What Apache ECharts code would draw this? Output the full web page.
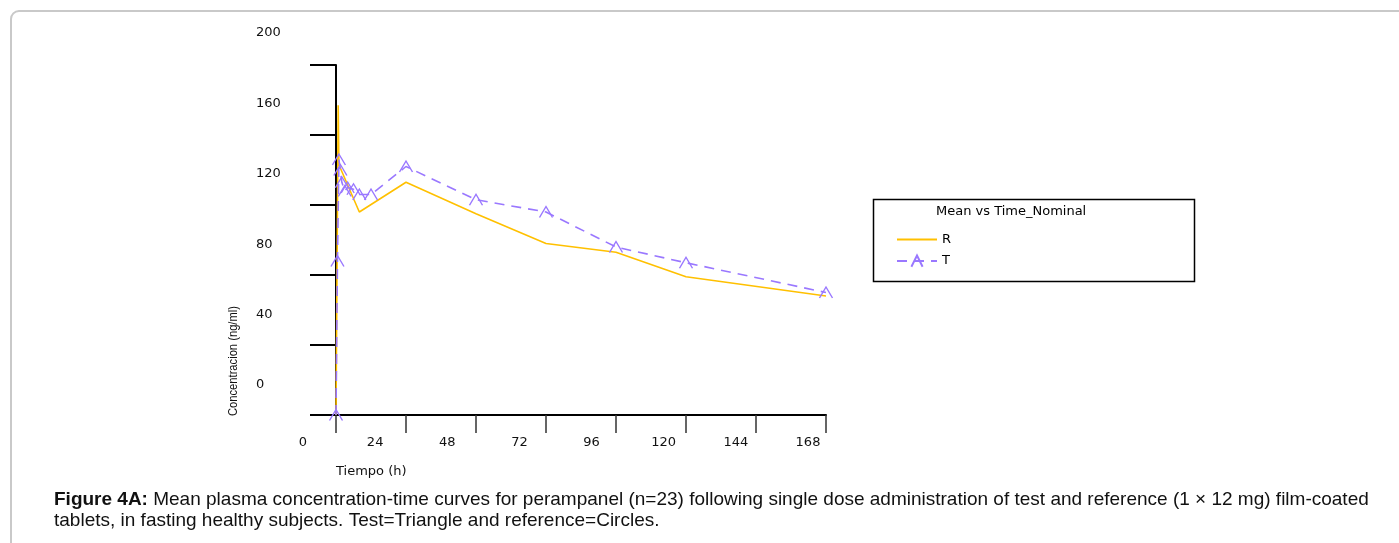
<!DOCTYPE html>
<html>
<head>
<meta charset="utf-8">
<script src="https://cdn.jsdelivr.net/npm/echarts@6/dist/echarts.min.js"></script>
<style>
  html, body { margin: 0; padding: 0; background: #fff; }
  #chart { width: 1399px; height: 543px; }
</style>
</head>
<body>
<div id="chart"></div>
<script>
// tiempo (h) y concentracion (ng/ml)
const timeR = [0, 0.75, 1, 8, 24, 48, 72, 96, 120, 168];
const concR = [0, 177, 143, 116, 133, 115, 98, 93, 79, 68];

const timeT = [0, 0.5, 1, 1.5, 2, 3, 4, 6, 8, 12, 24, 48, 72, 96, 120, 168];
const concT = [0, 88, 146, 140, 133, 128, 130, 129, 126, 126, 142, 123, 116, 96, 87, 70];

const xTicks = [0, 24, 48, 72, 96, 120, 144, 168];
const yTicks = [0, 40, 80, 120, 160, 200];

const caption1 = 'Mean plasma concentration-time curves for perampanel (n=23) following single dose administration of test and reference (1 × 12 mg) film-coated';
const caption2 = 'tablets, in fasting healthy subjects. Test=Triangle and reference=Circles.';

const orange = '#ffc000';
const purple = '#9a78ff';
const tickFont = { fontFamily: 'DejaVu Sans', fontSize: 13, color: '#111' };

const chart = echarts.init(document.getElementById('chart'));

chart.setOption({
  animation: false,
  grid: [
    // trazado
    { left: 336, top: 65, width: 490, height: 350 },
    // etiquetas del eje y (desplazadas)
    { left: 336, top: 33, width: 490, height: 352 },
    // etiquetas del eje x (desplazadas)
    { left: 303, top: 65, width: 505, height: 350 }
  ],
  xAxis: [
    {
      gridIndex: 0, type: 'value', min: 0, max: xTicks[xTicks.length - 1], interval: 24,
      axisLine: { show: true, lineStyle: { color: '#000', width: 2 } },
      axisTick: { show: true, length: 18, lineStyle: { color: '#333', width: 1.5 } },
      axisLabel: { show: false },
      splitLine: { show: false }
    },
    { gridIndex: 1, type: 'value', show: false, min: 0, max: 168 },
    {
      gridIndex: 2, type: 'value', min: 0, max: xTicks[xTicks.length - 1], interval: 24,
      axisLine: { show: false }, axisTick: { show: false }, splitLine: { show: false },
      axisLabel: Object.assign({ margin: 21 }, tickFont),
      name: 'Tiempo (h)', nameLocation: 'start', nameGap: 0,
      nameTextStyle: { fontFamily: 'DejaVu Sans', fontSize: 13, color: '#111',
        align: 'left', verticalAlign: 'top', padding: [50, 0, 0, 33] }
    }
  ],
  yAxis: [
    {
      gridIndex: 0, type: 'value', min: 0, max: yTicks[yTicks.length - 1], interval: 40,
      axisLine: { show: true, lineStyle: { color: '#000', width: 2 } },
      axisTick: { show: true, length: 26, lineStyle: { color: '#000', width: 2 } },
      axisLabel: { show: false },
      splitLine: { show: false }
    },
    {
      gridIndex: 1, type: 'value', min: 0, max: yTicks[yTicks.length - 1], interval: 40,
      axisLine: { show: false }, axisTick: { show: false }, splitLine: { show: false },
      axisLabel: Object.assign({ margin: 80, align: 'left' }, tickFont)
    },
    { gridIndex: 2, type: 'value', show: false, min: 0, max: 200 }
  ],
  legend: {
    data: [{ name: 'R', itemStyle: { opacity: 0 } }, 'T'],
    orient: 'vertical',
    left: 891,
    top: 228,
    itemWidth: 40,
    itemHeight: 14,
    itemGap: 7,
    textStyle: { fontFamily: 'DejaVu Sans', fontSize: 13, color: '#000' }
  },
  graphic: [
    {
      type: 'rect', silent: true, z: -10,
      shape: { x: 11, y: 11, width: 1420, height: 620, r: 8 },
      style: { fill: 'none', stroke: '#c9c9c9', lineWidth: 2 }
    },
    {
      type: 'rect', silent: true,
      shape: { x: 873.5, y: 199.5, width: 321, height: 82 },
      style: { fill: 'none', stroke: '#000', lineWidth: 1.5 }
    },
    {
      type: 'text', silent: true, left: 936, top: 205,
      style: { text: 'Mean vs Time_Nominal', font: '13px "DejaVu Sans"', fill: '#000' }
    },
    {
      type: 'text', silent: true, rotation: Math.PI / 2,
      x: 227, y: 416, scaleX: 0.86,
      style: { text: 'Concentracion (ng/ml)', font: '13px "Liberation Sans"', fill: '#111' }
    },
    {
      type: 'text', silent: true, left: 54, top: 489,
      style: {
        text: '{b|Figure 4A:} ' + caption1 + '\n' + caption2,
        fontFamily: 'Liberation Sans',
        fontSize: 19,
        fill: '#111',
        lineHeight: 21,
        rich: { b: { fontWeight: 'bold', fontFamily: 'Liberation Sans', fontSize: 19, fill: '#111', lineHeight: 21 } }
      }
    }
  ],
  series: [
    {
      name: 'R',
      type: 'line',
      xAxisIndex: 0, yAxisIndex: 0,
      data: timeR.map((t, i) => [t, concR[i]]),
      symbol: 'none',
      itemStyle: { color: orange },
      lineStyle: { color: orange, width: 1.6 }
    },
    {
      name: 'T',
      type: 'line',
      xAxisIndex: 0, yAxisIndex: 0,
      data: timeT.map((t, i) => [t, concT[i]]),
      symbol: 'path://M0,10 L5,0 L10,10',
      symbolSize: [13, 11],
      itemStyle: { color: 'none', borderColor: purple, borderWidth: 1.3 },
      lineStyle: { color: purple, width: 1.6, type: [10, 7] }
    }
  ]
});
</script>
</body>
</html>
